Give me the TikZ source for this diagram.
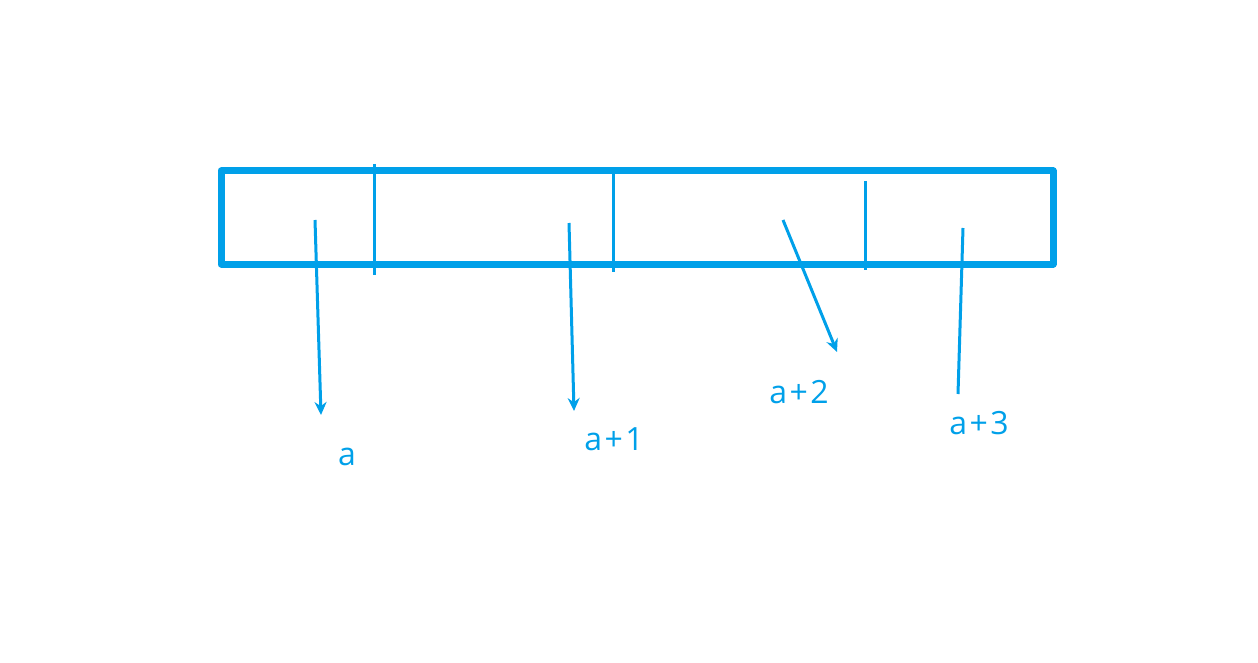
\documentclass[tikz,border=0pt]{standalone}
\usepackage{fontspec}
\setmainfont{Open Sans}
\usetikzlibrary{arrows.meta}
\definecolor{lineblue}{RGB}{0,160,233}
\newcommand{\plussign}{\kern2.5pt+\kern2.5pt}
\begin{document}
\begin{tikzpicture}[x=1pt,y=-1pt,
  boxline/.style={draw=lineblue,line width=7pt,line join=round},
  divider/.style={draw=lineblue,line width=3pt},
  pointer/.style={draw=lineblue,line width=3pt,-{Stealth[length=13pt,width=12pt]}},
  plainptr/.style={draw=lineblue,line width=3pt},
  lbl/.style={text=lineblue,font=\fontsize{32}{38}\selectfont,inner sep=0pt,anchor=base}]
\useasboundingbox (0,0) rectangle (1258,663);
\draw[boxline] (221,171) rectangle (1053,264);
\coordinate (d1t) at (374,164); \coordinate (d1b) at (374,275);
\coordinate (d2t) at (613,172); \coordinate (d2b) at (613,272);
\coordinate (d3t) at (865,181); \coordinate (d3b) at (865,270);
\draw[divider] (d1t) -- (d1b);
\draw[divider] (d2t) -- (d2b);
\draw[divider] (d3t) -- (d3b);
\coordinate (s1) at (315,220); \coordinate (e1) at (321,415);
\coordinate (s2) at (569,223); \coordinate (e2) at (574,411);
\coordinate (s3) at (783,220); \coordinate (e3) at (837,352);
\coordinate (s4) at (963,228); \coordinate (e4) at (958,394);
\draw[pointer] (s1) -- (e1);
\draw[pointer] (s2) -- (e2);
\draw[pointer] (s3) -- (e3);
\draw[plainptr] (s4) -- (e4);
\node[lbl] (la) at (347,465) {a};
\node[lbl] (la1) at (614,450) {a\plussign 1};
\node[lbl] (la2) at (799,403) {a\plussign 2};
\node[lbl] (la3) at (979,434) {a\plussign 3};
\end{tikzpicture}
\end{document}
